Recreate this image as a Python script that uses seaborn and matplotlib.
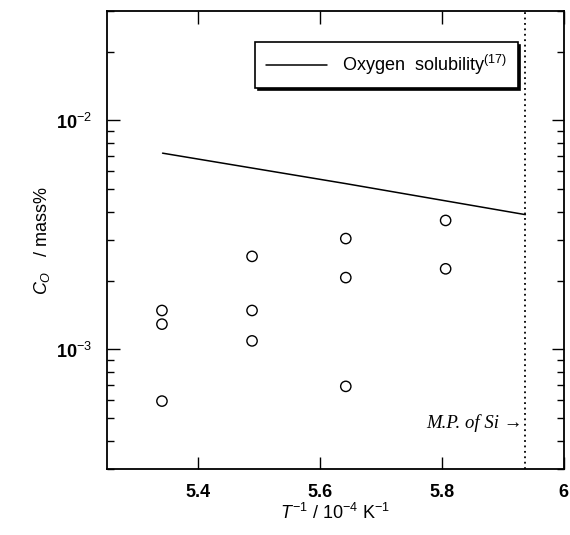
import numpy as np
import pandas as pd
import matplotlib
matplotlib.use("Agg")
import matplotlib.pyplot as plt
import seaborn as sns
from matplotlib.ticker import FixedLocator, LogLocator, NullFormatter

# measured oxygen content
inv_T = [5.34, 5.34, 5.34, 5.488, 5.488, 5.488, 5.642, 5.642, 5.642, 5.806, 5.806]
c_o = [1.48e-3, 1.29e-3, 5.95e-4, 2.55e-3, 1.48e-3, 1.09e-3, 3.05e-3, 2.06e-3, 6.9e-4, 3.66e-3, 2.25e-3]

# oxygen solubility line (ref 17)
sol_inv_T = [5.341, 5.642, 5.937]
sol_c = [7.2e-3, 5.3e-3, 3.88e-3]

mp_si = 5.937

sns.set_style("ticks")
plt.rcParams['font.family'] = ['Liberation Sans', 'DejaVu Sans']
plt.rcParams['mathtext.fontset'] = 'custom'
plt.rcParams['mathtext.rm'] = 'Liberation Sans'
plt.rcParams['mathtext.it'] = 'Liberation Sans:italic'
plt.rcParams['mathtext.bf'] = 'Liberation Sans:bold'
for k in ['text.color', 'axes.labelcolor', 'xtick.color', 'ytick.color', 'axes.edgecolor']:
    plt.rcParams[k] = 'black'

fig = plt.figure(figsize=(5.7, 5.35), dpi=100)
ax = fig.add_axes([0.188, 0.123, 0.801, 0.856])

pts = pd.DataFrame({'x': inv_T, 'y': c_o})
sol = pd.DataFrame({'x': sol_inv_T, 'y': sol_c})

sns.lineplot(data=sol, x='x', y='y', ax=ax, color='black', lw=1.1,
             label='Oxygen  solubility$^{(17)}$')
sns.scatterplot(data=pts, x='x', y='y', ax=ax, marker='o', s=55,
                facecolor='none', edgecolor='black', linewidth=1.0)

ax.axvline(mp_si, color='black', ls=(0, (1, 2)), lw=1.3)
ax.text(mp_si - 0.004, 4.75e-4, 'M.P. of Si \u2192', ha='right', va='center',
        fontsize=13.5, family='Liberation Serif', style='italic')

ax.set_yscale('log')
ax.set_xlim(5.25, 6.0)
ax.set_ylim(3e-4, 3e-2)
ax.set_xticks([5.4, 5.6, 5.8, 6.0])
ax.set_xticklabels(['5.4', '5.6', '5.8', '6'])
ax.yaxis.set_major_locator(FixedLocator([1e-3, 1e-2]))
ax.set_yticklabels(['10$^{-3}$', '10$^{-2}$'])
ax.yaxis.set_minor_locator(LogLocator(base=10, subs=np.arange(2, 10)))
ax.yaxis.set_minor_formatter(NullFormatter())
for lab in ax.get_xticklabels() + ax.get_yticklabels():
    lab.set_fontweight('bold')
    lab.set_fontsize(13)

ax.tick_params(which='both', direction='in', top=True, right=True, width=1)
ax.tick_params(which='major', length=9, pad=11)
ax.tick_params(which='minor', length=5)
for s in ax.spines.values():
    s.set_linewidth(1.3)

ax.set_xlabel('$T^{-1}$ / 10$^{-4}$ K$^{-1}$', fontsize=13, labelpad=1)
ax.set_ylabel('$C_{O}$   / mass%', fontsize=13, labelpad=3)

leg = ax.legend(loc='upper right', bbox_to_anchor=(0.899, 0.933), frameon=True,
                fancybox=False, shadow={'color': 'black', 'alpha': 1},
                edgecolor='black', fontsize=13, handlelength=3.4,
                borderpad=0.6, handletextpad=0.8, borderaxespad=0)
leg.get_frame().set_linewidth(1.2)

fig.savefig('out.png', dpi=100)
